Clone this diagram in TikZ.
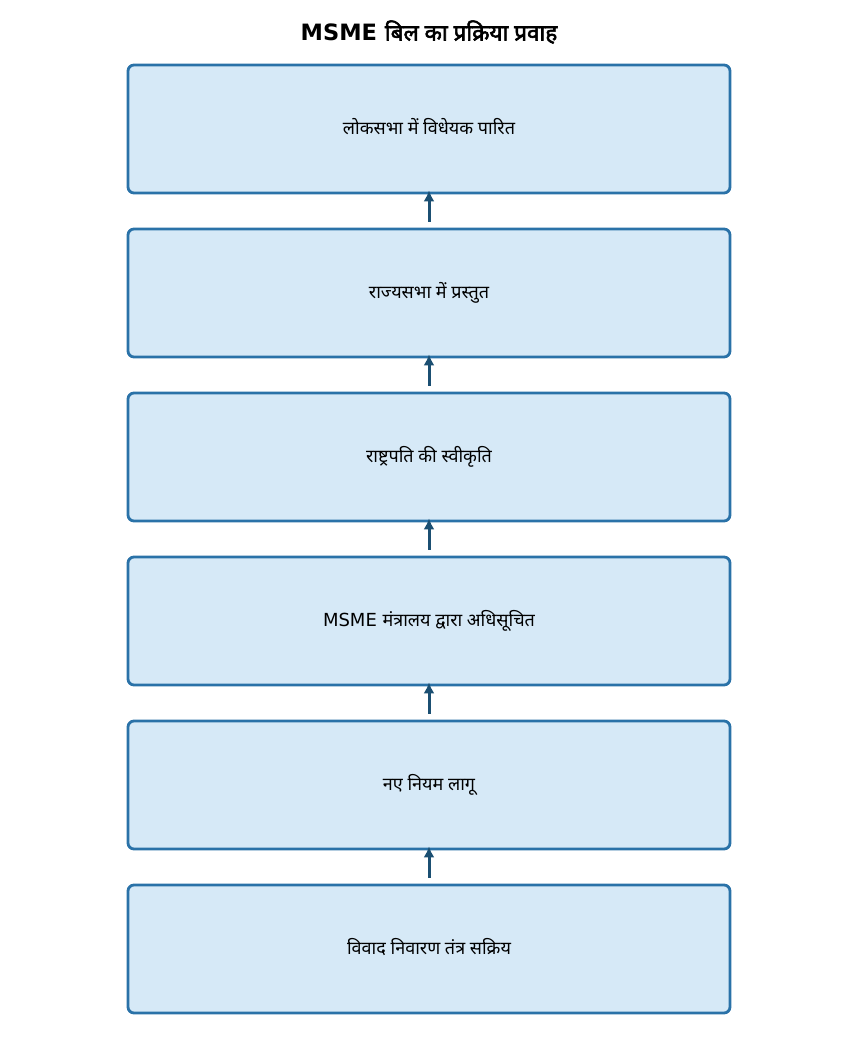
\documentclass[tikz,border=0pt]{standalone}
\usepackage{fontspec}
\setmainfont{DejaVu Sans}
\newfontfamily\deva[Script=Devanagari]{Noto Sans}
\newfontfamily\devab[Script=Devanagari,FakeBold=2.5]{Noto Sans}
\usetikzlibrary{arrows.meta}
\definecolor{boxline}{HTML}{2A72A8}
\definecolor{boxfill}{HTML}{D6E9F7}
\definecolor{arrowc}{HTML}{1B4F72}
\tikzset{
  stepbox/.style={draw=boxline, fill=boxfill, line width=2.8pt, rounded corners=6pt,
    minimum width=602pt, minimum height=128pt, inner sep=0pt, text height=13pt, text depth=3pt,
    font=\fontsize{18}{22}\selectfont},
  flow/.style={draw=arrowc, line width=3pt, -{Latex[length=11pt,width=11pt]}, shorten >=-4pt}
}
\begin{document}
\begin{tikzpicture}[x=1pt,y=-1pt]
\useasboundingbox (0,0) rectangle (858,1053);
\node[font=\fontsize{22.5}{26}\selectfont\bfseries] (title) at (429,32) {MSME {\devab बिल का प्रक्रिया प्रवाह}};
\node[stepbox] (b1) at (429,129) {\deva लोकसभा में विधेयक पारित};
\node[stepbox] (b2) at (429,293) {\deva राज्यसभा में प्रस्तुत};
\node[stepbox] (b3) at (429,457) {\deva राष्ट्रपति की स्वीकृति};
\node[stepbox] (b4) at (429,621) {MSME {\deva मंत्रालय द्वारा अधिसूचित}};
\node[stepbox] (b5) at (429,785) {\deva नए नियम लागू};
\node[stepbox] (b6) at (429,949) {\deva विवाद निवारण तंत्र सक्रिय};
\foreach \a/\b in {b2/b1,b3/b2,b4/b3,b5/b4,b6/b5}
  \draw[flow] ([yshift=6pt]\a.north) -- (\b.south);
\end{tikzpicture}
\end{document}
